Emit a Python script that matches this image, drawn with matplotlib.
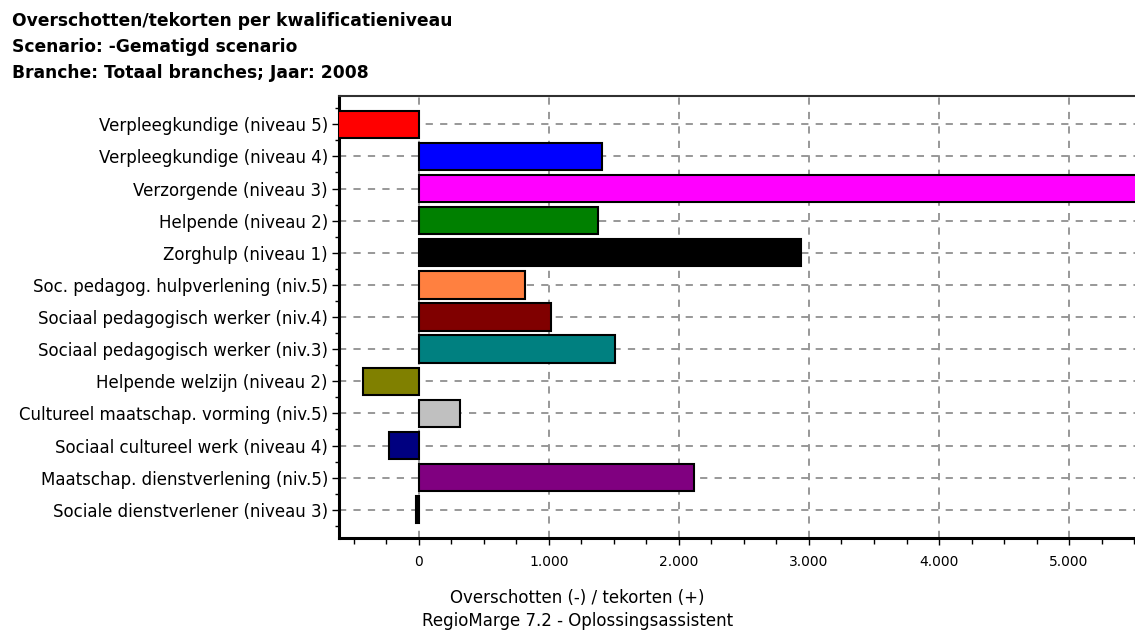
import matplotlib.pyplot as plt
import numpy as np
from matplotlib.ticker import FuncFormatter, MultipleLocator, FixedLocator

# categories (top to bottom) and surplus (-) / shortage (+) per level
categories = [
    'Verpleegkundige (niveau 5)',
    'Verpleegkundige (niveau 4)',
    'Verzorgende (niveau 3)',
    'Helpende (niveau 2)',
    'Zorghulp (niveau 1)',
    'Soc. pedagog. hulpverlening (niv.5)',
    'Sociaal pedagogisch werker (niv.4)',
    'Sociaal pedagogisch werker (niv.3)',
    'Helpende welzijn (niveau 2)',
    'Cultureel maatschap. vorming (niv.5)',
    'Sociaal cultureel werk (niveau 4)',
    'Maatschap. dienstverlening (niv.5)',
    'Sociale dienstverlener (niveau 3)',
]
values = [-650, 1408, 5800, 1377, 2936, 818, 1013, 1505, -431, 315, -233, 2113, -20]
colors = ['#FF0000', '#0000FF', '#FF00FF', '#008000', '#000000', '#FF8040',
          '#800000', '#008080', '#808000', '#C0C0C0', '#000080', '#800080',
          '#000000']
xticks = [0, 1000, 2000, 3000, 4000, 5000]

title_lines = ['Overschotten/tekorten per kwalificatieniveau',
               'Scenario: -Gematigd scenario',
               'Branche: Totaal branches; Jaar: 2008']

plt.rcParams['font.family'] = ['DejaVu Sans']

fig = plt.figure(figsize=(11.35, 6.32), dpi=100)
# the plot area runs past the right edge of the figure
ax = fig.add_axes([0.2987, 0.1487, 0.7577, 0.6994])

y = np.arange(len(categories))
ax.barh(y, values, height=0.85, color=colors, edgecolor='black', linewidth=1.5, zorder=3)

ax.set_xlim(-615, 6000)
ax.set_ylim(len(categories) - 1 + 0.88, -0.88)

ax.set_yticks(y)
ax.set_yticklabels(categories, fontsize=12)
ax.yaxis.set_minor_locator(MultipleLocator(0.5))
ax.xaxis.set_major_locator(FixedLocator(xticks))
ax.xaxis.set_minor_locator(MultipleLocator(250))
ax.xaxis.set_major_formatter(FuncFormatter(lambda v, p: f'{v:,.0f}'.replace(',', '.')))
ax.tick_params(axis='x', labelsize=10, pad=7, length=5, width=1)
ax.tick_params(axis='x', which='minor', length=4, width=1)
ax.tick_params(axis='y', length=5, width=1, pad=3)
ax.tick_params(axis='y', which='minor', length=3, width=1)

ax.grid(True, which='major', linestyle=(0, (4, 4)), color='#909090', linewidth=1.3, zorder=0)
ax.set_axisbelow(True)

for side in ['left', 'bottom']:
    ax.spines[side].set_linewidth(2.2)
    ax.spines[side].set_color('black')
ax.spines['top'].set_linewidth(1.5)
ax.spines['top'].set_color('#303030')

for i, line in enumerate(title_lines):
    fig.text(12 / 1135, 1 - (21 + 26 * i) / 632, line, fontsize=12.3,
             fontweight='bold', va='center', ha='left')

fig.text(0.509, 0.054, 'Overschotten (-) / tekorten (+)', fontsize=12, ha='center', va='center')
fig.text(0.509, 0.018, 'RegioMarge 7.2 - Oplossingsassistent', fontsize=12, ha='center', va='center')

fig.savefig('out.png', dpi=100)
